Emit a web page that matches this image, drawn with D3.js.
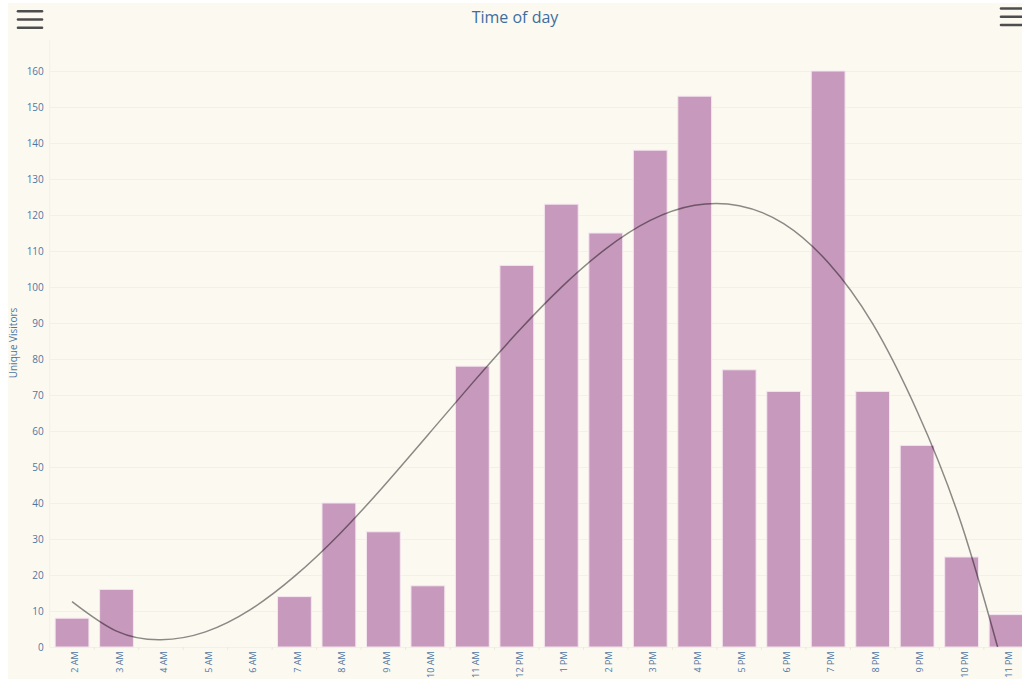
<!DOCTYPE html>
<html>
<head>
<meta charset="utf-8">
<script src="https://cdn.jsdelivr.net/npm/d3@7"></script>
<style>
  html, body { margin: 0; padding: 0; background: #ffffff; }
  svg { display: block; }
  text { font-family: "Open Sans", "DejaVu Sans", sans-serif; }
</style>
</head>
<body>
<svg id="chart" width="1022" height="679"></svg>
<script>
// Hourly unique visitors
const hours = ["2 AM","3 AM","4 AM","5 AM","6 AM","7 AM","8 AM","9 AM","10 AM","11 AM",
  "12 PM","1 PM","2 PM","3 PM","4 PM","5 PM","6 PM","7 PM","8 PM","9 PM","10 PM","11 PM"];
const visitors = [8, 16, 0, 0, 0, 14, 40, 32, 17, 78, 106, 123, 115, 138, 153, 77, 71, 160, 71, 56, 25, 9];
// Trend line values (polynomial fit) at each hour
const trend = [12.6, 4.4, 2.0, 4.2, 10.3, 19.6, 31.2, 44.6, 58.9, 73.3, 87.2, 99.9,
  110.6, 118.5, 122.7, 122.6, 117.6, 106.8, 89.8, 65.5, 34.0, -8.5];
const yTicks = [0, 10, 20, 30, 40, 50, 60, 70, 80, 90, 100, 110, 120, 130, 140, 150, 160];

const svg = d3.select("#chart");
const W = 1022, H = 679;
const plot = { left: 49.8, right: 1028.3, top: 40, bottom: 647 };

// page frame: white margin, cream chart background
svg.append("rect").attr("width", W).attr("height", H).attr("fill", "#ffffff");
svg.append("rect").attr("x", 8).attr("y", 3).attr("width", W - 8).attr("height", H - 3)
  .attr("fill", "#fcf9f1");

const x = d3.scaleBand().domain(hours).range([plot.left, plot.right])
  .paddingInner(0.24).paddingOuter(0.12);
const y = d3.scaleLinear().domain([0, (plot.bottom - plot.top) / 3.6]).range([plot.bottom, plot.top]);

// horizontal grid
svg.append("g").selectAll("line").data(yTicks).join("line")
  .attr("x1", plot.left).attr("x2", W)
  .attr("y1", d => Math.round(y(d)) + 0.5).attr("y2", d => Math.round(y(d)) + 0.5)
  .attr("stroke", "#f5efe5").attr("stroke-width", 1);

// left plot edge
svg.append("line").attr("x1", plot.left).attr("x2", plot.left)
  .attr("y1", plot.top).attr("y2", plot.bottom)
  .attr("stroke", "#f5f0e6");

// y axis
const yAxis = svg.append("g").attr("transform", `translate(${plot.left - 6},0)`)
  .call(d3.axisLeft(y).tickValues(yTicks).tickSize(0).tickPadding(0));
yAxis.select(".domain").remove();
yAxis.selectAll("text").attr("fill", "#4f76a3").attr("font-size", 10);

svg.append("text")
  .attr("transform", `translate(17,343) rotate(-90)`)
  .attr("text-anchor", "middle")
  .attr("fill", "#4f76a3").attr("font-size", 10)
  .text("Unique Visitors");

// x axis
const xAxis = svg.append("g").attr("transform", `translate(0,${plot.bottom})`)
  .call(d3.axisBottom(x).tickSize(3).tickPadding(0));
xAxis.select(".domain").remove();
xAxis.selectAll(".tick line").attr("stroke", "#efe8dc").attr("transform", `translate(${x.step() / 2},0)`);
xAxis.selectAll("text")
  .attr("fill", "#4f76a3").attr("font-size", 9)
  .attr("text-anchor", "end")
  .attr("dy", null)
  .attr("transform", "translate(3.2,4.5) rotate(-90)");

// bars
svg.append("g").selectAll("rect").data(hours).join("rect")
  .attr("x", d => x(d))
  .attr("width", x.bandwidth())
  .attr("y", (d, i) => y(visitors[i]))
  .attr("height", (d, i) => plot.bottom - y(visitors[i]))
  .attr("fill", "#c799bc")
  .attr("stroke", "#f4e6ef").attr("stroke-width", 1);

// trend line, clipped to the plot area
svg.append("clipPath").attr("id", "plotClip").append("rect")
  .attr("x", plot.left).attr("y", plot.top)
  .attr("width", plot.right - plot.left).attr("height", plot.bottom - plot.top);

const line = d3.line()
  .x((d, i) => x(hours[i]) + x.bandwidth() / 2)
  .y(d => y(d))
  .curve(d3.curveNatural);

svg.append("path").datum(trend)
  .attr("clip-path", "url(#plotClip)")
  .attr("d", line)
  .attr("fill", "none")
  .attr("stroke", "#000000").attr("stroke-opacity", 0.45)
  .attr("stroke-width", 1.5);

// title
svg.append("text").attr("x", 515).attr("y", 23)
  .attr("text-anchor", "middle")
  .attr("fill", "#3e6e9e").attr("font-size", 16)
  .text("Time of day");

// menu icons
function menuIcon(x0, x1, ys) {
  svg.append("g").selectAll("line").data(ys).join("line")
    .attr("x1", x0).attr("x2", x1).attr("y1", d => d).attr("y2", d => d)
    .attr("stroke", "#4d4d4d").attr("stroke-width", 2.6).attr("stroke-linecap", "round");
}
menuIcon(18, 42, [11.3, 19.5, 27.7]);
menuIcon(1001, 1026, [8.5, 16.8, 25]);
</script>
</body>
</html>
